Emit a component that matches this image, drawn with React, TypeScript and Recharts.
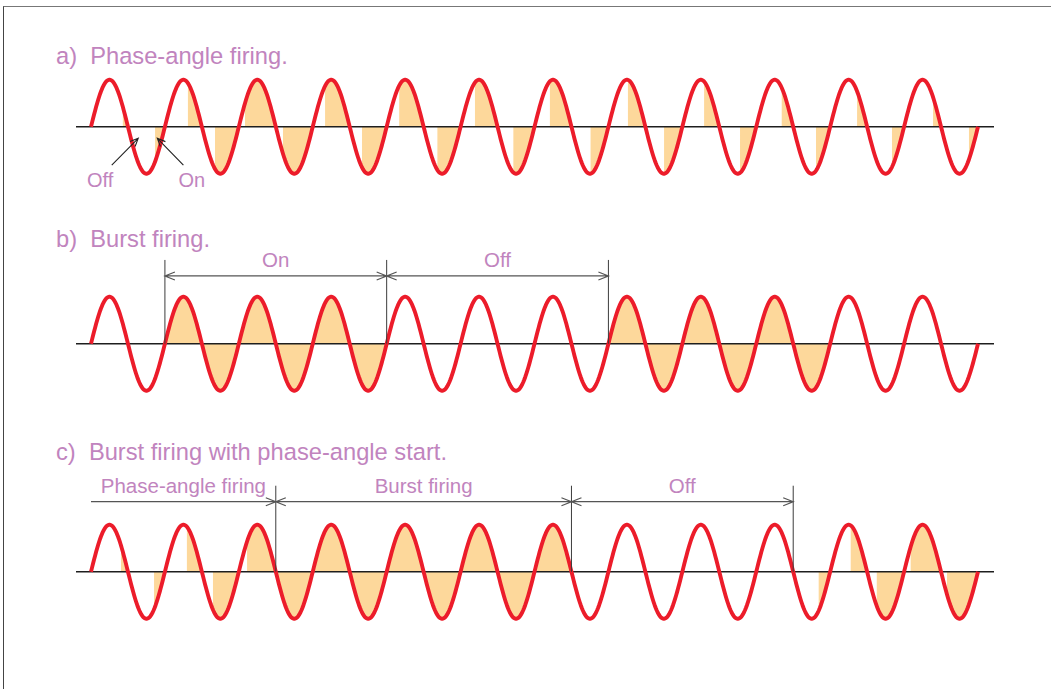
import React from "react";
import {
  ComposedChart, Line, Area, XAxis, YAxis, ReferenceLine, ReferenceDot,
} from "recharts";

const RED = "#ec1c2a";
const FILL = "#fdd89b";
const TEXT = "#c184be";
const INK = "#3c3c3c";
const FONT = "'Liberation Sans', Arial, Helvetica, sans-serif";

// one entry per half-cycle of the mains wave (12 cycles = 24 halves)
// number = firing angle in degrees after the zero crossing, null = not conducting
const phaseAngleFiring = [155, 132, 112, 64, 30, 35, 60, 60, 61, 67, 70, 77, 75, 93, 95, 91, 106, 101, 124, 111, 131, 121, 141, 136];
const burstFiring = [null, null, 0, 0, 0, 0, 0, 0, null, null, null, null, null, null, 0, 0, 0, 0, 0, 0, null, null, null, null];
const burstWithPhaseStart = [146, 127, 107, 54, 40, 0, 0, 0, 0, 0, 0, 0, 0, null, null, null, null, null, null, 124, 100, 47, 32, 29];

const titles = [
  "a)  Phase-angle firing.",
  "b)  Burst firing.",
  "c)  Burst firing with phase-angle start.",
];

// dimension bars: [from deg, to deg, label, arrow at start]
const burstSpans: [number, number, string, boolean][] = [
  [360, 1440, "On", true],
  [1440, 2520, "Off", true],
];
const phaseStartSpans: [number, number, string, boolean][] = [
  [0, 900, "Phase-angle firing", false],
  [900, 2340, "Burst firing", true],
  [2340, 3420, "Off", true],
];

// pointer arrows in panel a: [tail deg, tail y, tip deg, tip y, label, label deg, label y]
const pointers: [number, number, number, number, string, number, number][] = [
  [101, -0.815, 230, -0.247, "Off", 44, -1.277],
  [450, -0.815, 323, -0.247, "On", 491, -1.277],
];

const STEP = 5;
const X_DOMAIN: [number, number] = [-73.06, 4397.9];
const Y_DOMAIN: [number, number] = [-1.6, 2.8];
const W = 1051;
const H = 207;

// mains sine sampled per half-cycle, plus the exact firing points
const buildWave = (firing: (number | null)[]) => {
  const rows: { x: number; v: number; fill: number | null }[] = [];
  firing.forEach((a, k) => {
    const ts: number[] = [];
    for (let t = 0; t < 180; t += STEP) ts.push(t);
    if (a != null && !ts.includes(a)) ts.push(a);
    ts.sort((p, q) => p - q);
    ts.forEach((t) => {
      const x = k * 180 + t;
      const v = Math.sin((x * Math.PI) / 180);
      let on = a != null && t >= a;
      if (t === 0 && k > 0 && firing[k - 1] != null) on = true;
      rows.push({ x, v, fill: on ? v : null });
    });
  });
  const last = firing[firing.length - 1];
  rows.push({ x: firing.length * 180, v: 0, fill: last != null ? 0 : null });
  return rows;
};

const arrowShape = (startHead: boolean, endHead: boolean, len = 10, half = 4) => (p: any) => {
  const { x1, y1, x2, y2 } = p;
  const d = Math.hypot(x2 - x1, y2 - y1) || 1;
  const ux = (x2 - x1) / d;
  const uy = (y2 - y1) / d;
  const head = (tx: number, ty: number, sx: number, sy: number) =>
    `M${tx - len * sx - half * sy},${ty - len * sy + half * sx}L${tx},${ty}L${tx - len * sx + half * sy},${ty - len * sy - half * sx}`;
  let path = `M${x1},${y1}L${x2},${y2}`;
  if (endHead) path += head(x2, y2, ux, uy);
  if (startHead) path += head(x1, y1, -ux, -uy);
  return <path d={path} fill="none" stroke={p.stroke} strokeWidth={p.strokeWidth} />;
};

const textLabel = (value: string, size: number, anchor: "start" | "middle") => ({
  content: (props: any) => {
    const vb = props.viewBox || {};
    return (
      <text x={vb.x} y={vb.y} textAnchor={anchor} fontSize={size} fill={TEXT} fontFamily={FONT}
        xmlSpace="preserve" style={{ whiteSpace: "pre" }}>
        {value}
      </text>
    );
  },
});

interface PanelProps {
  top: number;
  firing: (number | null)[];
  title: string;
  titleY: number;
  spans?: [number, number, string, boolean][];
  spanY?: number;
  tickTop?: number;
  notes?: typeof pointers;
}

function Panel({ top, firing, title, titleY, spans = [], spanY = 0, tickTop = 0, notes = [] }: PanelProps) {
  const data = buildWave(firing);
  const bounds = spans.length ? [spans[0][0], ...spans.map((s) => s[1])] : [];
  return (
    <div style={{ position: "absolute", left: 0, top }}>
      <ComposedChart width={W} height={H} data={data} margin={{ top: 0, right: 57, bottom: 0, left: 76 }}>
        <XAxis type="number" dataKey="x" domain={X_DOMAIN} hide allowDataOverflow />
        <YAxis type="number" domain={Y_DOMAIN} hide allowDataOverflow />
        <Area dataKey="fill" type="linear" baseValue={0} fill={FILL} fillOpacity={1} stroke="none"
          dot={false} activeDot={false} isAnimationActive={false} />
        <ReferenceLine y={0} stroke="#1e1e1e" strokeWidth={1.6} />
        <Line dataKey="v" type="linear" stroke={RED} strokeWidth={3.9} strokeLinejoin="round"
          dot={false} activeDot={false} isAnimationActive={false} />

        {bounds.map((b, i) =>
          i === 0 && !spans[0][3] ? null : (
            <ReferenceLine key={"t" + i} segment={[{ x: b, y: 0 }, { x: b, y: tickTop }]}
              stroke={INK} strokeWidth={1} ifOverflow="visible" />
          )
        )}
        {spans.map(([from, to, label, startHead]) => (
          <ReferenceLine key={label + from} segment={[{ x: from, y: spanY }, { x: to, y: spanY }]}
            stroke="#555" strokeWidth={1.2} ifOverflow="visible"
            shape={arrowShape(startHead, true)}
            label={{ value: label, position: "top", offset: 9, fill: TEXT, fontSize: 20.5, fontFamily: FONT }} />
        ))}

        {notes.map(([tx, ty, hx, hy, label]) => (
          <ReferenceLine key={label} segment={[{ x: tx, y: ty }, { x: hx, y: hy }]}
            stroke="#222" strokeWidth={1.1} ifOverflow="visible" shape={arrowShape(false, true, 8, 3.5)} />
        ))}
        {notes.map(([, , , , label, lx, ly]) => (
          <ReferenceDot key={"l" + label} x={lx} y={ly} r={0} fill="none" stroke="none" ifOverflow="visible"
            label={textLabel(label, 20, "middle")} />
        ))}

        <ReferenceDot x={-170.5} y={titleY} r={0} fill="none" stroke="none" ifOverflow="visible"
          label={textLabel(title, 23.7, "start")} />
      </ComposedChart>
    </div>
  );
}

export default function App() {
  return (
    <div style={{ position: "absolute", left: 0, top: 0, width: W, height: 689, overflow: "hidden", background: "#fff" }}>
      <div style={{ position: "absolute", left: 3, top: 6, width: 1100, height: 700,
        borderTop: "1px solid #777", borderLeft: "1px solid #444" }} />
      <Panel top={-5} firing={phaseAngleFiring} title={titles[0]} titleY={1.333} notes={pointers} />
      <Panel top={212} firing={burstFiring} title={titles[1]} titleY={2.057}
        spans={burstSpans} spanY={1.441} tickTop={1.781} />
      <Panel top={440} firing={burstWithPhaseStart} title={titles[2]} titleY={2.38}
        spans={phaseStartSpans} spanY={1.488} tickTop={1.828} />
    </div>
  );
}
